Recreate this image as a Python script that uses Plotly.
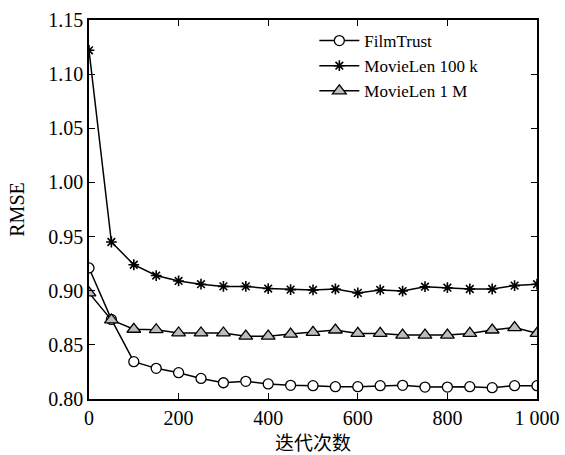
import plotly.graph_objects as go

iterations = [0, 50, 100, 150, 200, 250, 300, 350, 400, 450, 500,
              550, 600, 650, 700, 750, 800, 850, 900, 950, 1000]
filmtrust = [0.921, 0.8735, 0.8345, 0.8283, 0.8243, 0.819, 0.815, 0.8163, 0.8139, 0.8126, 0.8123,
             0.8114, 0.8114, 0.8123, 0.8126, 0.811, 0.811, 0.8114, 0.8105, 0.8123, 0.8123]
movielen_100k = [1.122, 0.945, 0.924, 0.914, 0.909, 0.906, 0.904, 0.904, 0.902, 0.901, 0.9007,
                 0.9016, 0.898, 0.9007, 0.8997, 0.9037, 0.9028, 0.9016, 0.9016, 0.9047, 0.906]
movielen_1m = [0.898, 0.873, 0.8644, 0.864, 0.861, 0.861, 0.861, 0.858, 0.858, 0.860, 0.8616,
               0.8637, 0.8606, 0.8606, 0.859, 0.859, 0.859, 0.8606, 0.8637, 0.866, 0.8606]
series_names = ["FilmTrust", "MovieLen 100 k", "MovieLen 1 M"]
x_ticks = [0, 200, 400, 600, 800, 1000]
x_ticklabels = ["0", "200", "400", "600", "800", "1 000"]
y_ticks = [0.80, 0.85, 0.90, 0.95, 1.00, 1.05, 1.10, 1.15]
y_ticklabels = ["0.80", "0.85", "0.90", "0.95", "1.00", "1.05", "1.10", "1.15"]

fig = go.Figure()
fig.add_trace(go.Scatter(
    x=iterations, y=filmtrust, name=series_names[0], mode="lines+markers",
    line=dict(color="black", width=1.5),
    marker=dict(symbol="circle", size=10, color="white", line=dict(color="black", width=1.3)),
))
fig.add_trace(go.Scatter(
    x=iterations, y=movielen_100k, name=series_names[1], mode="lines+markers",
    line=dict(color="black", width=1.5),
    marker=dict(symbol="asterisk", size=9, color="black", line=dict(color="black", width=1.6)),
))
fig.add_trace(go.Scatter(
    x=iterations, y=movielen_1m, name=series_names[2], mode="lines+markers",
    line=dict(color="black", width=1.5),
    marker=dict(symbol="triangle-up", size=12, color="#bdbdbd", line=dict(color="black", width=1.3)),
))

serif = "Liberation Serif"
fig.update_layout(
    width=565, height=455,
    margin=dict(l=89, r=28, t=20, b=56),
    paper_bgcolor="white", plot_bgcolor="white",
    font=dict(family=serif, size=20, color="black"),
    showlegend=True,
    legend=dict(x=0.503, y=0.992, xanchor="left", yanchor="top",
                bgcolor="rgba(0,0,0,0)", font=dict(family=serif, size=17),
                itemwidth=40, tracegroupgap=0),
    xaxis=dict(
        range=[0, 1000], tickvals=x_ticks, ticktext=x_ticklabels,
        ticks="inside", ticklen=6, tickwidth=1.2, tickcolor="black",
        showline=True, linecolor="black", linewidth=1.5, mirror="ticks",
        showgrid=False, zeroline=False, automargin=False,
        tickfont=dict(family=serif, size=20),
        title=dict(text="迭代次数", font=dict(family="Noto Sans CJK SC", size=19), standoff=4),
    ),
    yaxis=dict(
        range=[0.80, 1.15], tickvals=y_ticks, ticktext=y_ticklabels,
        ticks="inside", ticklen=6, tickwidth=1.2, tickcolor="black",
        showline=True, linecolor="black", linewidth=1.5, mirror="ticks",
        showgrid=False, zeroline=False, automargin=False,
        tickfont=dict(family=serif, size=20),
        title=dict(text="RMSE", font=dict(family=serif, size=20), standoff=18),
    ),
)

fig.write_html("out.html")
